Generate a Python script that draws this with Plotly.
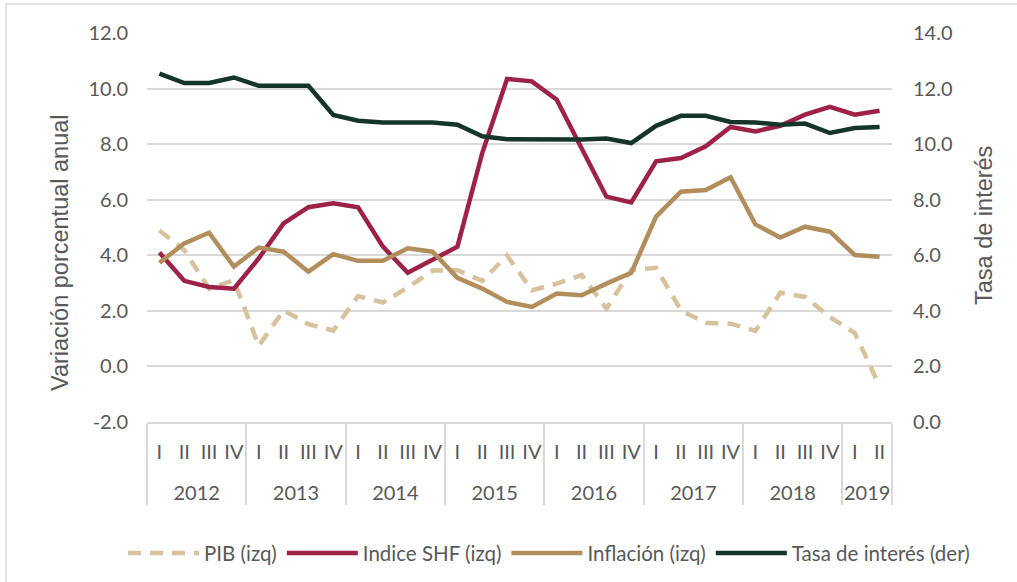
import plotly.graph_objects as go

years = ["2012"] * 4 + ["2013"] * 4 + ["2014"] * 4 + ["2015"] * 4 + ["2016"] * 4 + ["2017"] * 4 + ["2018"] * 4 + ["2019"] * 2
quarters = ["I", "II", "III", "IV"] * 7 + ["I", "II"]

pib = [4.89, 4.19, 2.80, 3.10, 0.74, 2.02, 1.52, 1.29, 2.53, 2.30, 2.84, 3.45,
       3.46, 3.08, 3.99, 2.74, 2.98, 3.29, 2.08, 3.47, 3.55, 2.02, 1.56, 1.54,
       1.28, 2.65, 2.50, 1.78, 1.20, -0.70]
indice_shf = [4.10, 3.08, 2.86, 2.80, 3.89, 5.15, 5.73, 5.87, 5.73, 4.31, 3.37, 3.83,
              4.31, 7.68, 10.35, 10.26, 9.60, 7.85, 6.11, 5.90, 7.38, 7.50, 7.92, 8.62,
              8.46, 8.66, 9.06, 9.34, 9.06, 9.20]
inflacion = [3.73, 4.43, 4.81, 3.59, 4.28, 4.13, 3.41, 4.04, 3.80, 3.80, 4.25, 4.13,
             3.19, 2.80, 2.32, 2.14, 2.62, 2.56, 2.98, 3.37, 5.39, 6.29, 6.35, 6.81,
             5.11, 4.64, 5.03, 4.85, 4.01, 3.95]
tasa_interes = [12.54, 12.20, 12.20, 12.40, 12.10, 12.10, 12.10, 11.05, 10.84, 10.78, 10.80, 10.78,
                10.70, 10.28, 10.18, 10.17, 10.17, 10.17, 10.20, 10.04, 10.66, 11.02, 11.02, 10.80,
                10.78, 10.70, 10.74, 10.40, 10.58, 10.62]

left_ticks = [-2, 0, 2, 4, 6, 8, 10, 12]
left_tick_labels = ["-2.0", "0.0", "2.0", "4.0", "6.0", "8.0", "10.0", "12.0"]
right_ticks = [0, 2, 4, 6, 8, 10, 12, 14]
right_tick_labels = ["0.0", "2.0", "4.0", "6.0", "8.0", "10.0", "12.0", "14.0"]

TXT = "#595959"
GRID = "#d9d9d9"
FONT = "Lato"

# year labels get a blank first line so they sit lower, as in the reference
x = [["<br>" + y for y in years], quarters]

fig = go.Figure()
fig.add_trace(go.Scatter(x=x, y=pib, name="PIB (izq)", mode="lines",
                         line=dict(color="#d6c29c", width=4.5, dash="13px,9px")))
fig.add_trace(go.Scatter(x=x, y=indice_shf, name="Indice SHF (izq)", mode="lines",
                         line=dict(color="#9e2247", width=4.5)))
fig.add_trace(go.Scatter(x=x, y=inflacion, name="Inflación (izq)", mode="lines",
                         line=dict(color="#b38e5d", width=4.5)))
fig.add_trace(go.Scatter(x=x, y=tasa_interes, name="Tasa de interés (der)", mode="lines",
                         line=dict(color="#15352a", width=4.5), yaxis="y2"))

fig.update_layout(
    width=1017, height=582,
    margin=dict(l=147, r=125, t=33, b=160, autoexpand=False),
    paper_bgcolor="white", plot_bgcolor="white",
    font=dict(family=FONT, color=TXT, size=20),
    showlegend=True,
    legend=dict(orientation="h", x=(123 - 147) / 745, xanchor="left",
                y=-0.337, yanchor="middle",
                font=dict(family=FONT, size=20.5, color=TXT), itemwidth=71,
                bgcolor="rgba(0,0,0,0)"),
    xaxis=dict(type="multicategory", range=[-0.5, len(quarters) - 0.5],
               showline=True, linecolor=GRID, linewidth=1.5,
               showgrid=False, ticks="", tickangle=0, showdividers=True,
               dividercolor=GRID, dividerwidth=1.5, ticklabelstandoff=11,
               tickfont=dict(family=FONT, size=20, color=TXT)),
    yaxis=dict(range=[-2, 12], tickvals=left_ticks, ticktext=left_tick_labels, showgrid=True,
               gridcolor=GRID, gridwidth=1.5, zeroline=False, showline=False, ticks="",
               tickfont=dict(family=FONT, size=20, color=TXT), ticklabelstandoff=18),
    yaxis2=dict(range=[0, 14], tickvals=right_ticks, ticktext=right_tick_labels, overlaying="y",
                side="right", showgrid=False, zeroline=False, showline=False, ticks="",
                tickfont=dict(family=FONT, size=20, color=TXT), ticklabelstandoff=20),
    annotations=[
        dict(text="Variación porcentual anual", textangle=-90, xref="paper", yref="paper",
             x=(60 - 147) / 745, y=(422 - 253) / 389, xanchor="center", yanchor="middle",
             showarrow=False, font=dict(family="Liberation Sans", size=23.5, color=TXT)),
        dict(text="Tasa de interés", textangle=-90, xref="paper", yref="paper",
             x=(984 - 147) / 745, y=(422 - 226) / 389, xanchor="center", yanchor="middle",
             showarrow=False, font=dict(family="Liberation Sans", size=23.5, color=TXT)),
    ],
    shapes=[
        dict(type="line", xref="paper", yref="paper", x0=(6 - 147) / 745, x1=(1017 - 147) / 745,
             y0=(422 - 4) / 389, y1=(422 - 4) / 389, line=dict(color=GRID, width=1.5)),
        dict(type="line", xref="paper", yref="paper", x0=(6 - 147) / 745, x1=(6 - 147) / 745,
             y0=(422 - 4) / 389, y1=(422 - 582) / 389, line=dict(color=GRID, width=1.5)),
    ],
)

fig.write_html("out.html", config={"displayModeBar": False},
               post_script="document.body.style.margin='0';")
